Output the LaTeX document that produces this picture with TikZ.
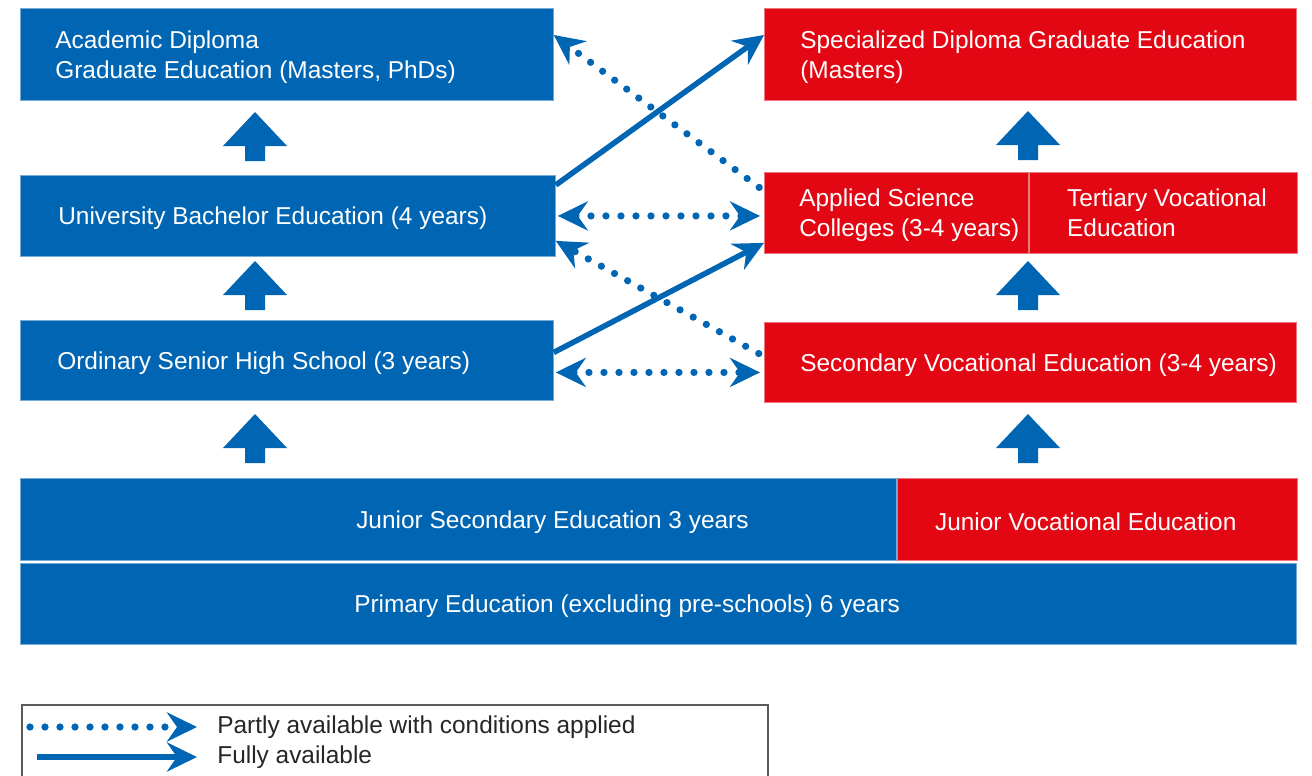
\documentclass[tikz,border=0pt]{standalone}
\usepackage{fontspec}
\setmainfont{Liberation Sans}
\usetikzlibrary{arrows.meta,positioning,calc}
\definecolor{clrBlue}{RGB}{0,102,179}
\definecolor{clrRed}{RGB}{227,6,19}
\definecolor{clrBorders}{RGB}{90,90,90}
\tikzstyle{box_style0}=[anchor=north west, inner sep=0, line width=0.5pt]
\tikzstyle{bluebox}=[box_style0, fill=clrBlue, draw=clrBlue!55!white]
\tikzstyle{redbox}=[box_style0, fill=clrRed, draw=clrRed!55!white]
\tikzstyle{boxtext}=[anchor=west, inner sep=0, yshift=-0.05cm, align=left, text=white, font=\fontsize{13.9}{17}\selectfont]
\tikzstyle{legtext}=[anchor=west, inner sep=0, text=black!85, font=\fontsize{13.9}{15}\selectfont]
\tikzstyle{fullarrow}=[->, >={Stealth[length=6mm,width=5.8mm,inset=2mm]}, draw=clrBlue, line width=1.1mm]
\tikzstyle{partarrow}=[fullarrow, line width=1.45mm, line cap=round, dash pattern=on 0pt off 3mm]
\tikzset{uparrow/.pic={
  \fill[clrBlue] (-10,0) -- (-10,-15) -- (-32,-15) -- (0,-49) -- (32,-15) -- (10,-15) -- (10,0) -- cycle;
}}

\begin{document}
\begin{tikzpicture}[x=0.02cm, y=-0.02cm]
	\useasboundingbox (0,0) rectangle (1312,775);

	% academic track
	\node[bluebox, minimum width=10.66cm, minimum height=1.84cm] (acad) at (20,8) {};
	\node[boxtext] (acadtxt) at ([xshift=0.7cm]acad.west) {Academic Diploma\\Graduate Education (Masters, PhDs)};

	\node[bluebox, minimum width=10.70cm, minimum height=1.62cm] (bach) at (20,175) {};
	\node[boxtext] (bachtxt) at ([xshift=0.76cm]bach.west) {University Bachelor Education (4 years)};

	\node[bluebox, minimum width=10.66cm, minimum height=1.60cm] (high) at (20,320) {};
	\node[boxtext] (hightxt) at ([xshift=0.74cm]high.west) {Ordinary Senior High School (3 years)};

	% vocational track
	\node[redbox, minimum width=10.64cm, minimum height=1.84cm] (spec) at (764,8) {};
	\node[boxtext] (spectxt) at ([xshift=0.72cm]spec.west) {Specialized Diploma Graduate Education\\(Masters)};

	\node[redbox, minimum width=5.28cm, minimum height=1.62cm] (appl) at (764,172) {};
	\node[boxtext] (appltxt) at ([xshift=0.7cm]appl.west) {Applied Science\\Colleges (3-4 years)};

	\node[redbox, minimum width=5.36cm, minimum height=1.62cm, right=0pt of appl] (tert) {};
	\node[boxtext] (terttxt) at ([xshift=0.76cm, yshift=0.06cm]tert.west) {Tertiary Vocational\\Education};

	\node[redbox, minimum width=10.64cm, minimum height=1.60cm] (sec) at (764,322) {};
	\node[boxtext] (sectxt) at ([xshift=0.72cm]sec.west) {Secondary Vocational Education (3-4 years)};

	% common base
	\node[bluebox, minimum width=17.52cm, minimum height=1.64cm] (jsec) at (20,478) {};
	\node[boxtext] (jsectxt) at ([xshift=6.72cm]jsec.west) {Junior Secondary Education 3 years};

	\node[redbox, minimum width=8.00cm, minimum height=1.64cm, right=0pt of jsec] (jvoc) {};
	\node[boxtext] (jvoctxt) at ([xshift=0.76cm]jvoc.west) {Junior Vocational Education};

	\node[bluebox, minimum width=25.52cm, minimum height=1.62cm, below=0.04cm of jsec.south west, anchor=north west] (prim) {};
	\node[boxtext] (primtxt) at ([xshift=6.68cm]prim.west) {Primary Education (excluding pre-schools) 6 years};

	% progression
	\foreach \px/\py in {255/161, 255/310, 255/463, 1028/160, 1028/310, 1028/463}
		\pic at (\px,\py) {uparrow};

	% transfers
	\draw[fullarrow] ([yshift=0.16cm]high.east) -- ([yshift=0.22cm]appl.south west);
	\draw[fullarrow] ([yshift=-0.2cm]bach.north east) -- ([yshift=-0.54cm]spec.north west);
	\draw[partarrow, shorten <=0.12cm] ([yshift=-0.38cm]appl.north west) -- ([yshift=-0.54cm]acad.north east);
	\draw[partarrow, shorten <=0.12cm] ([yshift=0.12cm]sec.west) -- ([yshift=0.32cm]bach.south east);
	\draw[partarrow, <->, shorten <=0.04cm, shorten >=0.08cm] (bach.east) -- (bach.east -| appl.west);
	\draw[partarrow, <->, shorten <=0.04cm, shorten >=0.08cm] ([yshift=-0.24cm]high.east) -- ([yshift=-0.24cm]high.east -| sec.west);

	% legend
	\draw[clrBorders, line width=1pt] (22,790) |- (768,705) -- (768,790);
	\coordinate (lp0) at (30,727);
	\coordinate (lp1) at (197,727);
	\coordinate (lf0) at (37,757);
	\coordinate (lf1) at (197,757);
	\draw[partarrow] (lp0) -- (lp1);
	\draw[fullarrow] (lf0) -- (lf1);
	\node[legtext] (legpart) at (217,727) {Partly available with conditions applied};
	\node[legtext] (legfull) at (217,757) {Fully available};
\end{tikzpicture}
\end{document}
